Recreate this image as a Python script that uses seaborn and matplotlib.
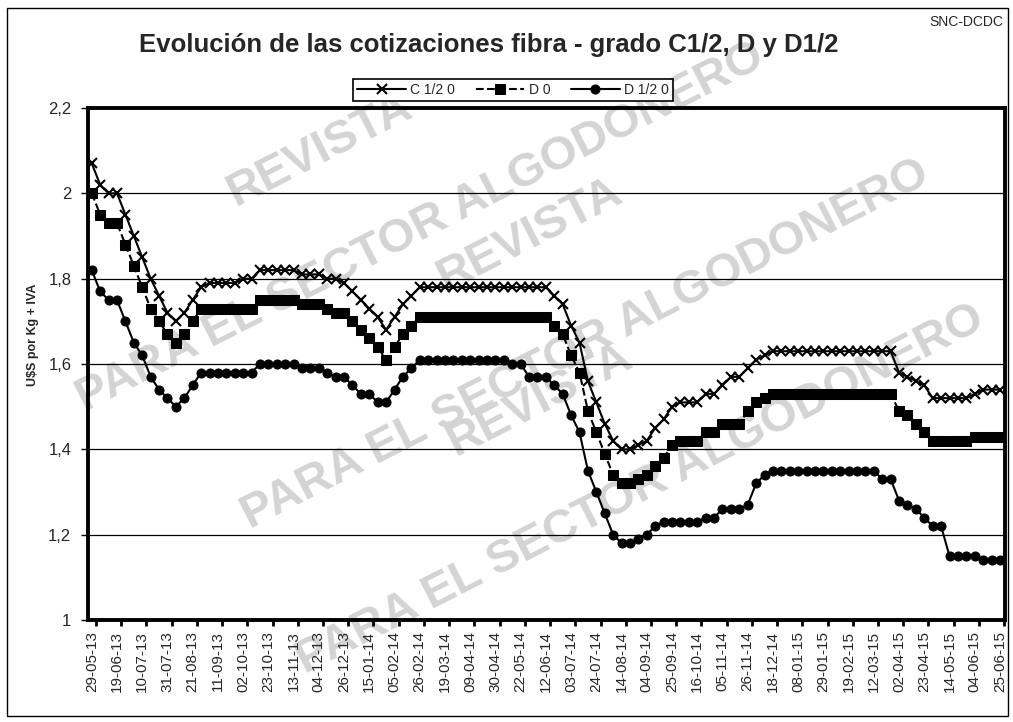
import numpy as np
import pandas as pd
import matplotlib
matplotlib.use("Agg")
import matplotlib.pyplot as plt
import seaborn as sns
from matplotlib.patches import Rectangle
from matplotlib.ticker import FixedLocator

# Datos semanales (U$S por Kg + IVA), 29-05-13 a 25-06-15
c12 = [2.07, 2.02, 2.00, 2.00, 1.95, 1.90, 1.85, 1.80, 1.76, 1.72, 1.70, 1.72, 1.75, 1.78,
       1.79, 1.79, 1.79, 1.79, 1.80, 1.80, 1.82, 1.82, 1.82, 1.82, 1.82, 1.81, 1.81, 1.81,
       1.80, 1.80, 1.79, 1.77, 1.75, 1.73, 1.71, 1.68, 1.71, 1.74, 1.76,
       1.78, 1.78, 1.78, 1.78, 1.78, 1.78, 1.78, 1.78, 1.78, 1.78, 1.78, 1.78, 1.78, 1.78, 1.78, 1.78,
       1.76, 1.74, 1.69, 1.65, 1.56, 1.51, 1.46, 1.42, 1.40, 1.40, 1.41, 1.42, 1.45, 1.47, 1.50,
       1.51, 1.51, 1.51, 1.53, 1.53, 1.55, 1.57, 1.57, 1.59, 1.61, 1.62,
       1.63, 1.63, 1.63, 1.63, 1.63, 1.63, 1.63, 1.63, 1.63, 1.63, 1.63, 1.63, 1.63, 1.63, 1.63,
       1.58, 1.57, 1.56, 1.55, 1.52, 1.52, 1.52, 1.52, 1.52, 1.53, 1.54, 1.54, 1.54]

d0 = [2.00, 1.95, 1.93, 1.93, 1.88, 1.83, 1.78, 1.73, 1.70, 1.67, 1.65, 1.67, 1.70,
      1.73, 1.73, 1.73, 1.73, 1.73, 1.73, 1.73, 1.75, 1.75, 1.75, 1.75, 1.75, 1.74, 1.74, 1.74,
      1.73, 1.72, 1.72, 1.70, 1.68, 1.66, 1.64, 1.61, 1.64, 1.67, 1.69,
      1.71, 1.71, 1.71, 1.71, 1.71, 1.71, 1.71, 1.71, 1.71, 1.71, 1.71, 1.71, 1.71, 1.71, 1.71, 1.71,
      1.69, 1.67, 1.62, 1.58, 1.49, 1.44, 1.39, 1.34, 1.32, 1.32, 1.33, 1.34, 1.36, 1.38, 1.41,
      1.42, 1.42, 1.42, 1.44, 1.44, 1.46, 1.46, 1.46, 1.49, 1.51, 1.52,
      1.53, 1.53, 1.53, 1.53, 1.53, 1.53, 1.53, 1.53, 1.53, 1.53, 1.53, 1.53, 1.53, 1.53, 1.53,
      1.49, 1.48, 1.46, 1.44, 1.42, 1.42, 1.42, 1.42, 1.42, 1.43, 1.43, 1.43, 1.43]

d12 = [1.82, 1.77, 1.75, 1.75, 1.70, 1.65, 1.62, 1.57, 1.54, 1.52, 1.50, 1.52, 1.55,
       1.58, 1.58, 1.58, 1.58, 1.58, 1.58, 1.58, 1.60, 1.60, 1.60, 1.60, 1.60, 1.59, 1.59, 1.59,
       1.58, 1.57, 1.57, 1.55, 1.53, 1.53, 1.51, 1.51, 1.54, 1.57, 1.59,
       1.61, 1.61, 1.61, 1.61, 1.61, 1.61, 1.61, 1.61, 1.61, 1.61, 1.61, 1.60, 1.60, 1.57, 1.57, 1.57,
       1.55, 1.53, 1.48, 1.44, 1.35, 1.30, 1.25, 1.20, 1.18, 1.18, 1.19, 1.20, 1.22,
       1.23, 1.23, 1.23, 1.23, 1.23, 1.24, 1.24, 1.26, 1.26, 1.26, 1.27, 1.32, 1.34,
       1.35, 1.35, 1.35, 1.35, 1.35, 1.35, 1.35, 1.35, 1.35, 1.35, 1.35, 1.35, 1.35, 1.33, 1.33,
       1.28, 1.27, 1.26, 1.24, 1.22, 1.22, 1.15, 1.15, 1.15, 1.15, 1.14, 1.14, 1.14]

fechas = ["29-05-13", "19-06-13", "10-07-13", "31-07-13", "21-08-13", "11-09-13", "02-10-13",
          "23-10-13", "13-11-13", "04-12-13", "26-12-13", "15-01-14", "05-02-14", "26-02-14",
          "19-03-14", "09-04-14", "30-04-14", "22-05-14", "12-06-14", "03-07-14", "24-07-14",
          "14-08-14", "04-09-14", "25-09-14", "16-10-14", "05-11-14", "26-11-14", "18-12-14",
          "08-01-15", "29-01-15", "19-02-15", "12-03-15", "02-04-15", "23-04-15", "14-05-15",
          "04-06-15", "25-06-15"]

semana = np.arange(len(c12))
df = pd.DataFrame({"semana": semana, "C1/2": c12, "D": d0, "D1/2": d12})

sns.set_theme(style="white")
plt.rcParams["font.family"] = ["Liberation Sans", "DejaVu Sans"]

W, H = 1013, 722
fig = plt.figure(figsize=(W / 100, H / 100), dpi=100)
ax = fig.add_axes([88 / W, 1 - 620 / H, (1005 - 88) / W, (620 - 108) / H])
ax.set_zorder(1)
ax.patch.set_alpha(0)

def px(x, y):
    return x / W, 1 - y / H

# marca de agua
wm = dict(color="#d4d4d4", fontsize=34, weight="heavy", rotation=27,
          ha="center", va="center", rotation_mode="anchor", zorder=0)
fig.text(*px(320, 150), "REVISTA", **wm)
fig.text(*px(420, 228), "PARA EL SECTOR ALGODONERO", **wm)
fig.text(*px(530, 235), "REVISTA", **wm)
fig.text(*px(585, 345), "PARA EL SECTOR ALGODONERO", **wm)
fig.text(*px(540, 400), "REVISTA", **wm)
fig.text(*px(640, 490), "PARA EL SECTOR ALGODONERO", **wm)

sns.lineplot(data=df, x="semana", y="C1/2", color="black", lw=1.5, marker="x",
             markersize=7, markeredgecolor="black", markeredgewidth=1.5,
             label="C 1/2 0", ax=ax)
sns.lineplot(data=df, x="semana", y="D", color="black", lw=1.5, linestyle="--",
             marker="s", markersize=7.5, markeredgecolor="black", markerfacecolor="black",
             label="D 0", ax=ax)
sns.lineplot(data=df, x="semana", y="D1/2", color="black", lw=1.5, marker="o",
             markersize=6.5, markeredgecolor="black", markerfacecolor="black",
             label="D 1/2 0", ax=ax)

ax.set_xlim(-0.45, len(c12) - 0.4)
ax.set_ylim(1, 2.2)
yt = [1, 1.2, 1.4, 1.6, 1.8, 2, 2.2]
ax.set_yticks(yt)
ax.set_yticklabels([f"{v:g}".replace(".", ",") for v in yt], fontsize=12)
ax.set_xticks(np.arange(0, len(c12), 3))
ax.set_xticklabels(fechas, rotation=90, fontsize=11)
ax.xaxis.set_minor_locator(FixedLocator(np.arange(0.5, len(c12), 3)))
ax.tick_params(axis="x", which="major", length=0, pad=8)
ax.tick_params(axis="x", which="minor", bottom=True, length=4, width=2, color="black")
ax.tick_params(axis="y", left=True, length=5, width=1, color="black", pad=7)
ax.yaxis.grid(True, color="black", lw=0.9)
ax.set_axisbelow(True)
for s in ax.spines.values():
    s.set_color("black")
    s.set_linewidth(2.8)
ax.set_xlabel("")
ax.set_ylabel("")

fig.text(*px(33, 335), "U$S por Kg + IVA", rotation=90, ha="center", va="center",
         fontsize=9, weight="bold")
fig.text(*px(489, 45), "Evolución de las cotizaciones fibra - grado C1/2, D y D1/2",
         ha="center", va="center", fontsize=18.5, weight="bold")
fig.text(*px(1003, 22), "SNC-DCDC", ha="right", va="center", fontsize=10)

leg = ax.legend(loc="center", bbox_to_anchor=px(513, 90), bbox_transform=fig.transFigure,
                ncol=3, frameon=True, fancybox=False, edgecolor="black", framealpha=1,
                fontsize=10, handlelength=3.5, columnspacing=1.5, borderpad=0.3,
                handletextpad=0.3)
leg.get_frame().set_linewidth(1.2)

fig.patches.append(Rectangle((7 / W, 1 - 716 / H), (1008 - 7) / W, (716 - 8) / H,
                             transform=fig.transFigure, fill=False, edgecolor="black",
                             lw=1, zorder=0))

fig.savefig("out.png", dpi=100, facecolor="white")
